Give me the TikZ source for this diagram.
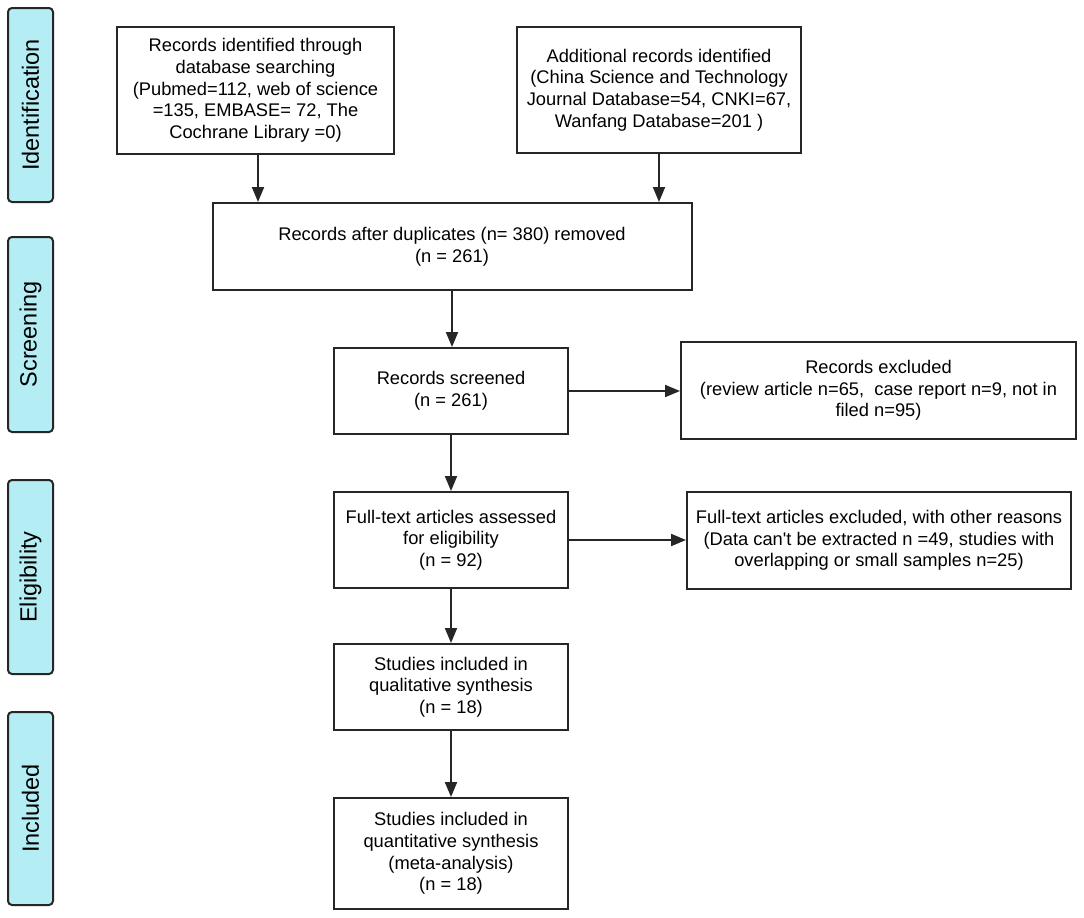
\documentclass[tikz,border=0pt]{standalone}
\usepackage{fontspec}
\setmainfont{Liberation Sans}
\usetikzlibrary{arrows.meta}
\definecolor{lbl}{HTML}{B5EDF5}
\definecolor{edge}{HTML}{262626}
\begin{document}
\begin{tikzpicture}[x=1pt,y=-1pt,
  box/.style={draw=edge,line width=2pt,fill=white,rectangle,align=center,inner sep=2pt,
    font=\fontsize{18.3}{21.7}\selectfont},
  phase/.style={draw=edge,line width=2pt,fill=lbl,rounded corners=4pt,
    minimum width=45pt},
  phasetext/.style={rotate=90,font=\fontsize{23.5}{26}\selectfont},
  arr/.style={draw=edge,line width=2pt,-{Triangle[length=15pt,width=12pt]}}]
\useasboundingbox[fill=white] (0,0) rectangle (1084,918);
% phase labels
\node[phase,minimum height=194pt] (p1) at (30.5,105) {};
\node[phasetext] (t1) at (p1.center) {Identification};
\node[phase,minimum height=195pt] (p2) at (30.5,334.5) {};
\node[phasetext] (t2) at (p2.center) {Screening};
\node[phase,minimum height=194pt] (p3) at (30.5,577) {};
\node[phasetext] (t3) at (p3.center) {Eligibility};
\node[phase,minimum height=193pt] (p4) at (30.5,808.5) {};
\node[phasetext] (t4) at (p4.center) {Included};
% boxes
\node[box,minimum width=277pt,minimum height=127pt] (b1) at (255.5,90.5)
  {Records identified through\\database searching\\(Pubmed=112, web of science\\=135, EMBASE= 72, The\\Cochrane Library =0)};
\node[box,minimum width=284pt,minimum height=126pt] (b2) at (659,90)
  {Additional records identified\\(China Science and Technology\\Journal Database=54, CNKI=67,\\Wanfang Database=201 )};
\node[box,minimum width=479pt,minimum height=87pt] (b3) at (452,246.5)
  {Records after duplicates (n= 380) removed\\(n = 261)};
\node[box,minimum width=234pt,minimum height=86pt] (b4) at (451,391)
  {Records screened\\(n = 261)};
\node[box,minimum width=395pt,minimum height=97pt] (e1) at (878.5,390.5)
  {Records excluded\\(review article n=65,\ \ case report n=9, not in\\filed n=95)};
\node[box,minimum width=234pt,minimum height=96pt] (b5) at (451,540)
  {Full-text articles assessed\\for eligibility\\(n = 92)};
\node[box,minimum width=384pt,minimum height=97pt] (e2) at (879,540.5)
  {Full-text articles excluded, with other reasons\\(Data can\textquotesingle t be extracted n =49, studies with\\overlapping or small samples n=25)};
\node[box,minimum width=234pt,minimum height=86pt] (b6) at (451,687)
  {Studies included in\\qualitative synthesis\\(n = 18)};
\node[box,minimum width=234pt,minimum height=111pt] (b7) at (451,853.5)
  {Studies included in\\quantitative synthesis\\(meta-analysis)\\(n = 18)};
% arrows
\draw[arr] ([xshift=2.5pt]b1.south) -- ([xshift=2.5pt]b1.south |- b3.north);
\draw[arr] (b2.south) -- (b2.south |- b3.north);
\draw[arr] (b3.south) -- (b3.south |- b4.north);
\draw[arr] (b4.east) -- (e1.west |- b4.east);
\draw[arr] (b4.south) -- (b5.north);
\draw[arr] (b5.east) -- (e2.west |- b5.east);
\draw[arr] (b5.south) -- (b6.north);
\draw[arr] (b6.south) -- (b7.north);
\end{tikzpicture}
\end{document}
